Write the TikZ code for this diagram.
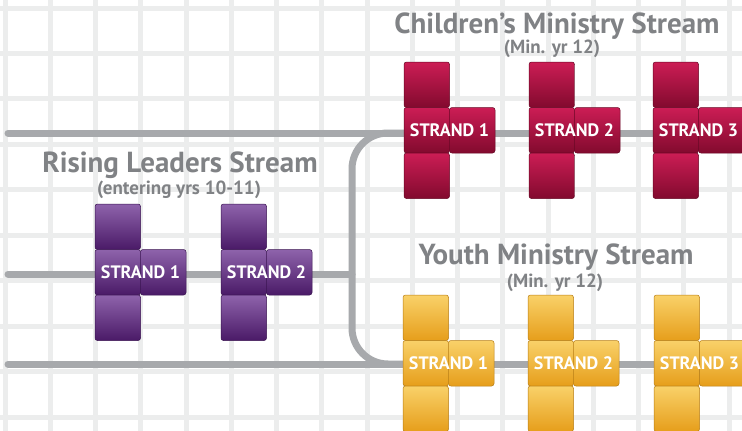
\documentclass[tikz,border=0pt]{standalone}
\usepackage{fontspec}
\setmainfont{PT Sans}
\definecolor{gridc}{HTML}{ECEDED}
\definecolor{linec}{HTML}{A7A9AC}
\definecolor{titlec}{HTML}{808285}
\definecolor{redL}{HTML}{CC1D55}
\definecolor{redD}{HTML}{820A2E}
\definecolor{purL}{HTML}{8E63AB}
\definecolor{purD}{HTML}{4A1A67}
\definecolor{yelL}{HTML}{F9D169}
\definecolor{yelD}{HTML}{E69E1B}
\tikzset{
  gridline/.style={gridc, line width=5pt},
  track/.style={linec, line width=7pt, line cap=round},
  sq/.style={minimum size=45.5pt, inner sep=0pt, rounded corners=2.5pt,
    top color=#1L, bottom color=#1D, draw=#1D!80!black, line width=0.5pt},
  strandtext/.style={text=white, font=\bfseries\fontsize{18}{18}\selectfont, inner sep=0pt},
  title/.style={text=titlec, font=\bfseries\fontsize{29}{29}\selectfont, anchor=base, inner sep=0pt},
  subtitle/.style={text=titlec, font=\bfseries\fontsize{19}{19}\selectfont, anchor=base, inner sep=0pt},
}
\newcommand\strandpiece[5]{%
  \node[sq=#4] (#1t) at (#2+22.75, #3+22.75) {};
  \node[sq=#4] (#1m) at (#2+22.75, #3+68.25) {};
  \node[sq=#4] (#1r) at (#2+68.25, #3+68.25) {};
  \node[sq=#4] (#1b) at (#2+22.75, #3+113.75) {};
  \node[strandtext] (#1) at (#2+45.5, #3+68.25) {#5};
}
\begin{document}
\begin{tikzpicture}[x=1pt,y=-1pt]
\useasboundingbox (0,0) rectangle (742,431);
\clip (0,0) rectangle (742,431);
\fill[white] (0,0) rectangle (742,431);
% grid
\foreach \i in {0,...,16} \draw[gridline] (5+45.25*\i,0) -- (5+45.25*\i,431);
\foreach \j in {0,...,9} \draw[gridline] (0,8+45.45*\j) -- (742,8+45.45*\j);
% track coordinates
\coordinate (topL) at (8,133);
\coordinate (topR) at (760,133);
\coordinate (midL) at (8,274);
\coordinate (midR) at (352,274);
\coordinate (botL) at (8,364);
\coordinate (botR) at (760,364);
\coordinate (jTop) at (352,133);
\coordinate (jBot) at (352,364);
\coordinate (bTop) at (410,133);
\coordinate (bBot) at (410,364);
\draw[track] (topL) -- (topR);
\draw[track] (midL) -- (midR);
\draw[track] (botL) -- (botR);
\draw[track, rounded corners=36pt] (bTop) -- (jTop) -- (jBot) -- (bBot);
% pieces
\strandpiece{p1}{95}{204}{pur}{STRAND 1}
\strandpiece{p2}{221}{204}{pur}{STRAND 2}
\strandpiece{r1}{404}{62}{red}{STRAND 1}
\strandpiece{r2}{529}{62}{red}{STRAND 2}
\strandpiece{r3}{653}{62}{red}{STRAND 3}
\strandpiece{y1}{403}{295}{yel}{STRAND 1}
\strandpiece{y2}{528}{295}{yel}{STRAND 2}
\strandpiece{y3}{654}{295}{yel}{STRAND 3}
% titles
\node[title] (cms) at (557,33) {Children’s Ministry Stream};
\node[subtitle] (cmsy) at (552,53) {(Min. yr 12)};
\node[title] (rls) at (180,172) {Rising Leaders Stream};
\node[subtitle] (rlsy) at (179,194) {(entering yrs 10-11)};
\node[title] (yms) at (556,264) {Youth Ministry Stream};
\node[subtitle] (ymsy) at (555,287) {(Min. yr 12)};
\end{tikzpicture}
\end{document}
